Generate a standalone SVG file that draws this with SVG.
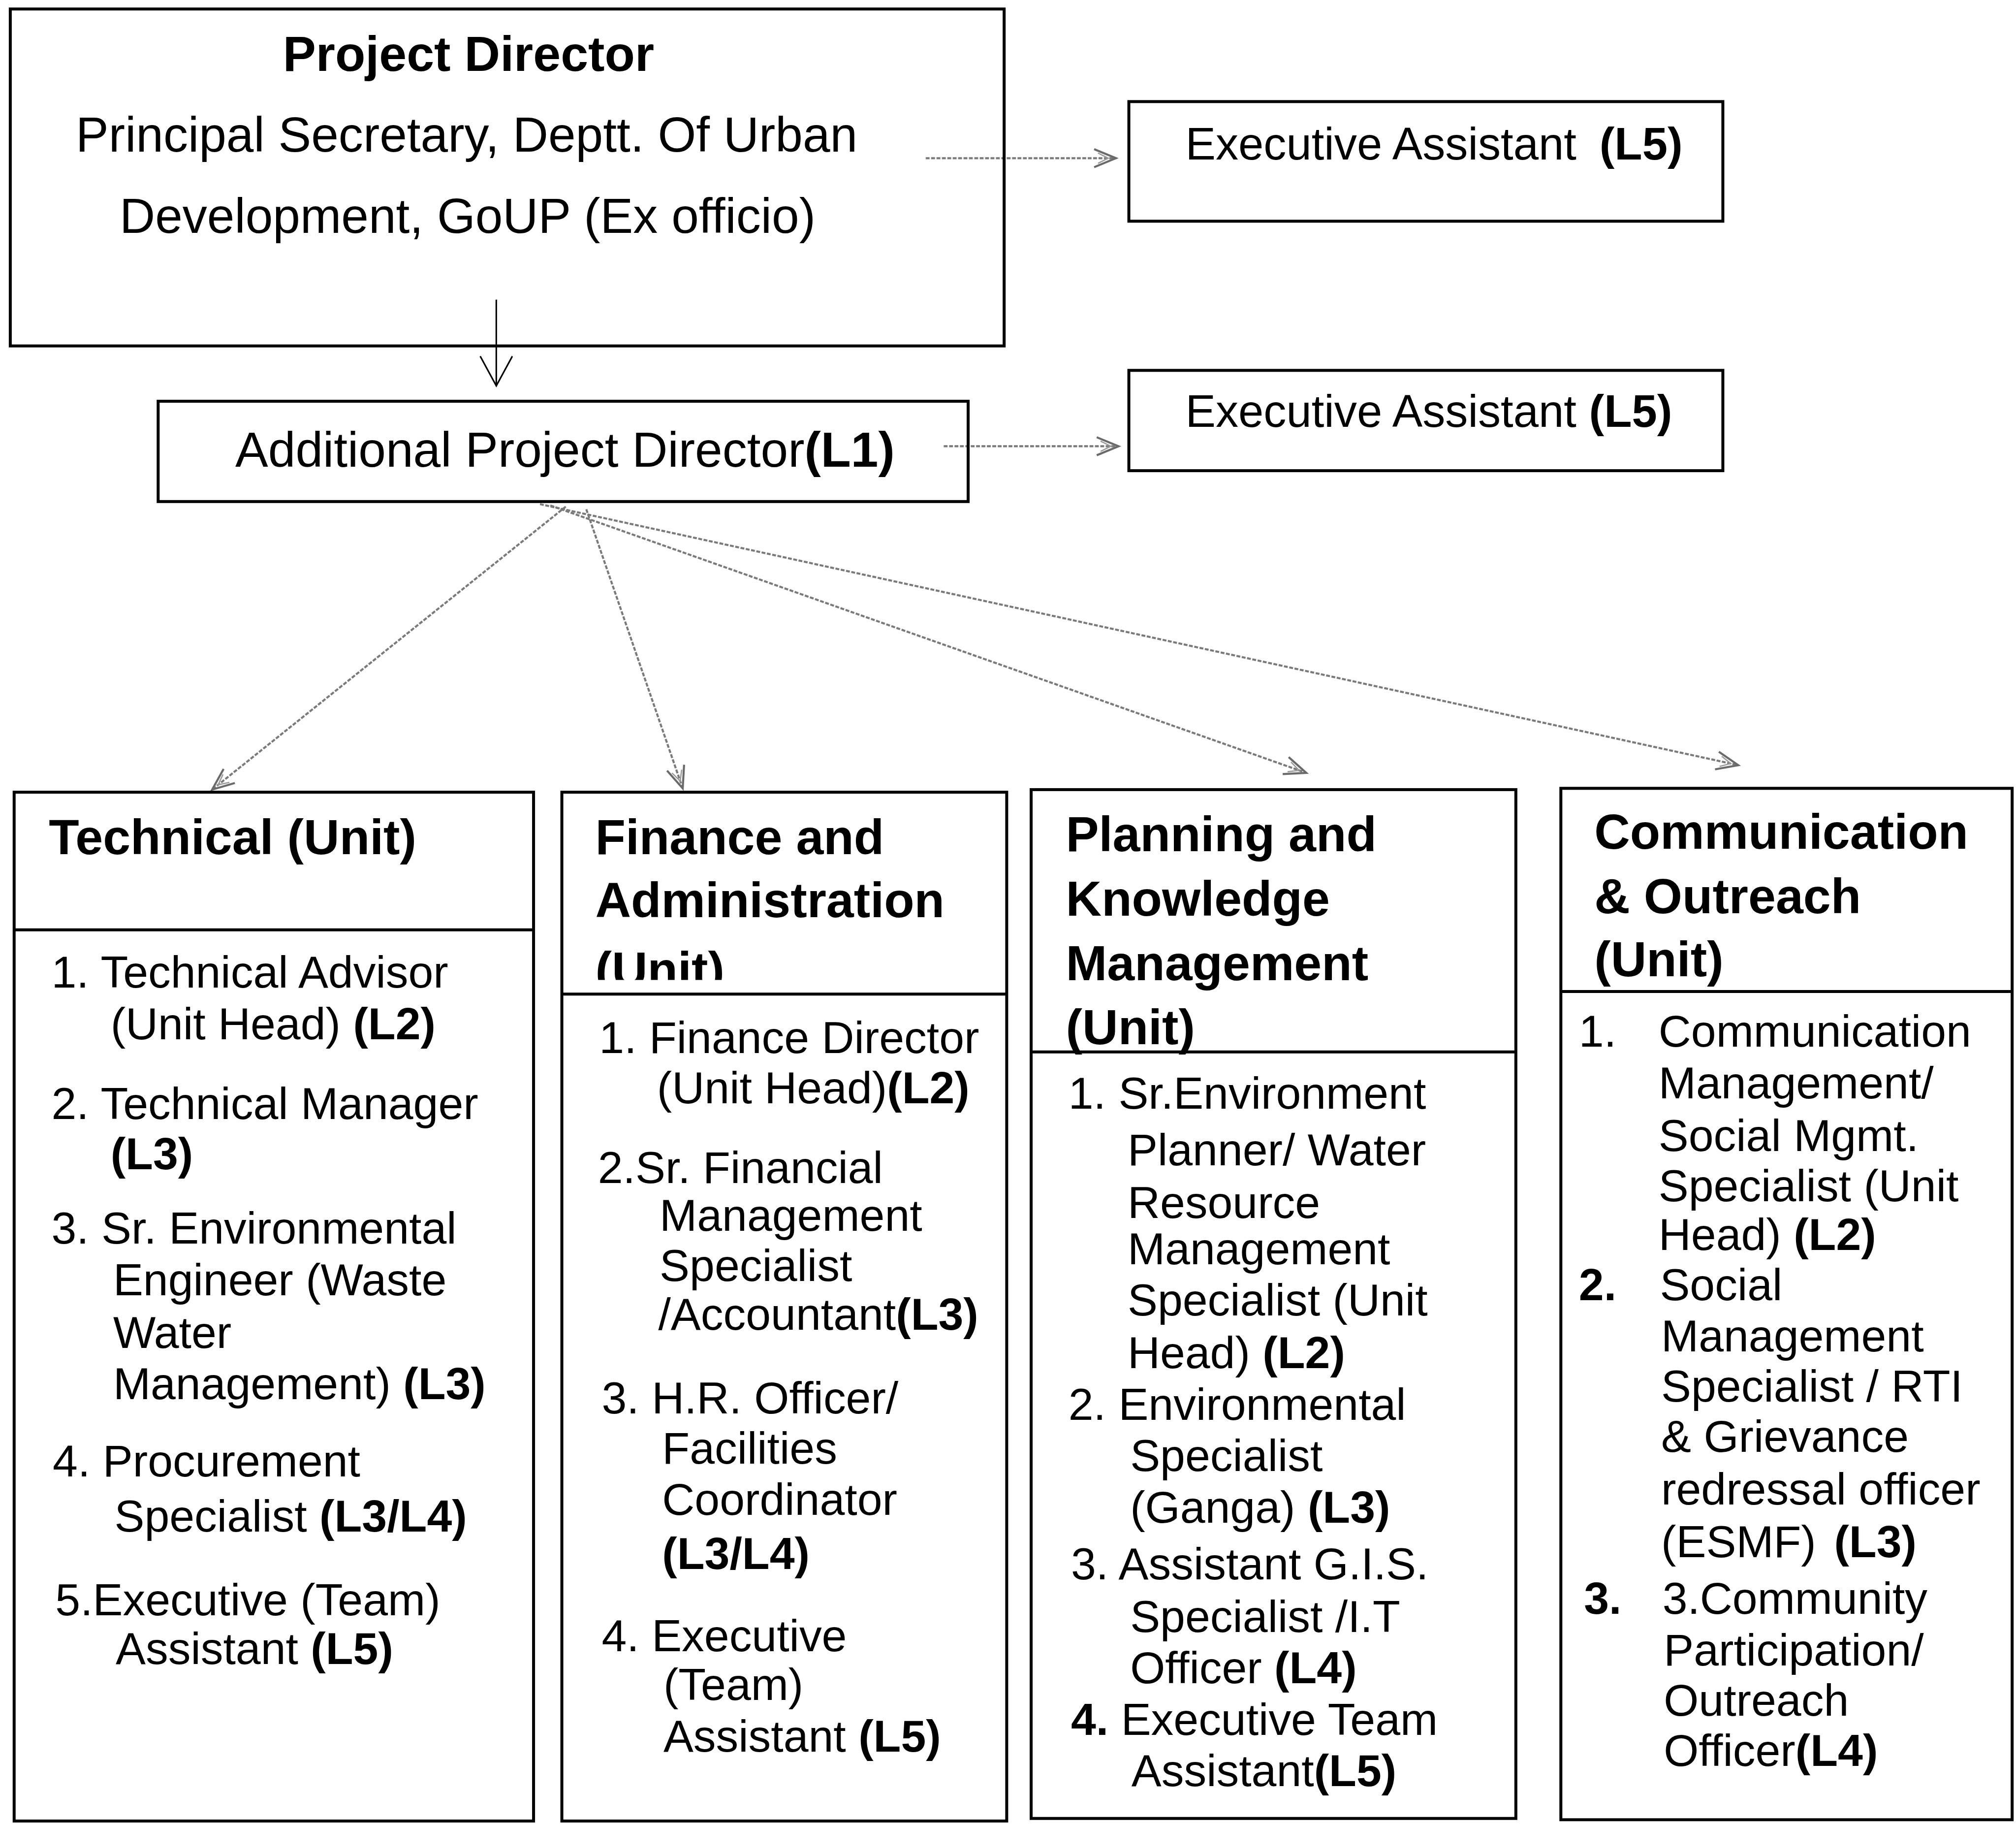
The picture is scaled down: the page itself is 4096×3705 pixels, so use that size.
<svg xmlns="http://www.w3.org/2000/svg" width="4096" height="3705" viewBox="0 0 4096 3705">
<style>
.box{fill:none;stroke:#000;stroke-width:2.3}
.t{font-family:"Liberation Sans",Arial,sans-serif;font-size:35px;fill:#000}
.h{font-family:"Liberation Sans",Arial,sans-serif;font-size:38.5px;font-weight:bold;fill:#000}
.m{font-family:"Liberation Sans",Arial,sans-serif;font-size:38.3px;fill:#000}
.e{font-family:"Liberation Sans",Arial,sans-serif;font-size:35.3px;fill:#000}
.b{font-weight:bold}
.conn{fill:none;stroke:#7a7a7a;stroke-width:1.6;stroke-dasharray:3 1.2}
.solid{fill:none;stroke:#000;stroke-width:1.2}
</style>
<defs>
<marker id="arr" markerUnits="userSpaceOnUse" markerWidth="22" markerHeight="18" refX="19" refY="9" orient="auto">
<path d="M2,2 L19,9 L2,16" fill="none" stroke="#6a6a6a" stroke-width="1.6"/>
<path d="M5,5 L13,9 L5,13" fill="none" stroke="#9a9a9a" stroke-width="1"/>
</marker>
<marker id="arrk" markerUnits="userSpaceOnUse" markerWidth="26" markerHeight="28" refX="24" refY="13" orient="auto">
<path d="M1,0.5 L24,13 L1,25.5" fill="none" stroke="#000" stroke-width="1.2"/>
</marker>
<clipPath id="finClip"><rect x="437" y="616" width="346" height="146"/></clipPath>
</defs>
<rect width="4096" height="3705" fill="#fff"/>
<g transform="scale(2.612245)">
<g id="connectors">
<line class="solid" x1="386" y1="233" x2="386" y2="300" marker-end="url(#arrk)"/>
<line class="conn" x1="720" y1="123" x2="868" y2="123" marker-end="url(#arr)"/>
<line class="conn" x1="734" y1="347" x2="870" y2="347" marker-end="url(#arr)"/>
<line class="conn" x1="440" y1="394" x2="165" y2="614" marker-end="url(#arr)"/>
<line class="conn" x1="456" y1="396" x2="531" y2="613" marker-end="url(#arr)"/>
<line class="conn" x1="428" y1="393" x2="1016" y2="601" marker-end="url(#arr)"/>
<line class="conn" x1="420" y1="392" x2="1352" y2="595" marker-end="url(#arr)"/>
</g>
<g id="project-director">
<rect class="box" x="8" y="7" width="773" height="262"/>
<text class="h" x="220" y="55">Project Director</text>
<text class="m" x="59" y="118">Principal Secretary, Deptt. Of Urban</text>
<text class="m" x="93" y="181">Development, GoUP (Ex officio)</text>
</g>
<g id="executive-assistant-1">
<rect class="box" x="878" y="79" width="462" height="93"/>
<text class="e" x="922" y="124">Executive Assistant<tspan x="1244" class="b">(L5)</tspan></text>
</g>
<g id="additional-project-director">
<rect class="box" x="123" y="312" width="630" height="78"/>
<text class="m" x="183" y="363">Additional Project Director<tspan class="b">(L1)</tspan></text>
</g>
<g id="executive-assistant-2">
<rect class="box" x="878" y="288" width="462" height="78"/>
<text class="e" x="922" y="332">Executive Assistant <tspan class="b">(L5)</tspan></text>
</g>
<g id="technical-unit">
<rect class="box" x="11" y="616" width="404" height="800"/>
<line class="box" x1="11" y1="723" x2="415" y2="723"/>
<text class="h" x="38" y="664">Technical (Unit)</text>
<text class="t" x="40" y="768">1. Technical Advisor</text>
<text class="t" x="86" y="808">(Unit Head) <tspan class="b">(L2)</tspan></text>
<text class="t" x="40" y="870">2. Technical Manager</text>
<text class="t b" x="86" y="909">(L3)</text>
<text class="t" x="40" y="967">3. Sr. Environmental</text>
<text class="t" x="88" y="1007">Engineer (Waste</text>
<text class="t" x="88" y="1048">Water</text>
<text class="t" x="88" y="1088">Management) <tspan class="b">(L3)</tspan></text>
<text class="t" x="41" y="1148">4. Procurement</text>
<text class="t" x="89" y="1191">Specialist <tspan class="b">(L3/L4)</tspan></text>
<text class="t" x="43" y="1256">5.Executive (Team)</text>
<text class="t" x="90" y="1294">Assistant <tspan class="b">(L5)</tspan></text>
</g>
<g id="finance-unit">
<rect class="box" x="437" y="616" width="346" height="800"/>
<line class="box" x1="437" y1="773" x2="783" y2="773"/>
<text class="h" x="463" y="664">Finance and</text>
<text class="h" x="463" y="713">Administration</text>
<text class="h" x="463" y="767" clip-path="url(#finClip)">(Unit)</text>
<text class="t" x="466" y="819">1. Finance Director</text>
<text class="t" x="511" y="858">(Unit Head)<tspan class="b">(L2)</tspan></text>
<text class="t" x="465" y="920">2.Sr. Financial</text>
<text class="t" x="513" y="957">Management</text>
<text class="t" x="513" y="996">Specialist</text>
<text class="t" x="512" y="1034">/Accountant<tspan class="b">(L3)</tspan></text>
<text class="t" x="468" y="1099">3. H.R. Officer/</text>
<text class="t" x="515" y="1138">Facilities</text>
<text class="t" x="515" y="1178">Coordinator</text>
<text class="t b" x="515" y="1220">(L3/L4)</text>
<text class="t" x="468" y="1284">4. Executive</text>
<text class="t" x="516" y="1322">(Team)</text>
<text class="t" x="516" y="1362">Assistant <tspan class="b">(L5)</tspan></text>
</g>
<g id="planning-unit">
<rect class="box" x="802" y="614" width="377" height="800"/>
<line class="box" x1="802" y1="818" x2="1179" y2="818"/>
<text class="h" x="829" y="662">Planning and</text>
<text class="h" x="829" y="712">Knowledge</text>
<text class="h" x="829" y="762">Management</text>
<text class="h" x="829" y="812">(Unit)</text>
<text class="t" x="831" y="862">1. Sr.Environment</text>
<text class="t" x="877" y="906">Planner/ Water</text>
<text class="t" x="877" y="947">Resource</text>
<text class="t" x="877" y="983">Management</text>
<text class="t" x="877" y="1023">Specialist (Unit</text>
<text class="t" x="877" y="1064">Head) <tspan class="b">(L2)</tspan></text>
<text class="t" x="831" y="1104">2. Environmental</text>
<text class="t" x="879" y="1144">Specialist</text>
<text class="t" x="879" y="1184">(Ganga) <tspan class="b">(L3)</tspan></text>
<text class="t" x="833" y="1228">3. Assistant G.I.S.</text>
<text class="t" x="879" y="1269">Specialist /I.T</text>
<text class="t" x="879" y="1309">Officer <tspan class="b">(L4)</tspan></text>
<text class="t" x="833" y="1349"><tspan class="b">4.</tspan> Executive Team</text>
<text class="t" x="880" y="1389">Assistant<tspan class="b">(L5)</tspan></text>
</g>
<g id="communication-unit">
<rect class="box" x="1214" y="613" width="351" height="802"/>
<line class="box" x1="1214" y1="771" x2="1565" y2="771"/>
<text class="h" x="1240" y="660">Communication</text>
<text class="h" x="1240" y="710">&amp; Outreach</text>
<text class="h" x="1240" y="759">(Unit)</text>
<text class="t" x="1228" y="814">1.</text>
<text class="t" x="1290" y="814">Communication</text>
<text class="t" x="1290" y="854">Management/</text>
<text class="t" x="1290" y="895">Social Mgmt.</text>
<text class="t" x="1290" y="934">Specialist (Unit</text>
<text class="t" x="1290" y="972">Head) <tspan class="b">(L2)</tspan></text>
<text class="t b" x="1228" y="1011">2.</text>
<text class="t" x="1291" y="1011">Social</text>
<text class="t" x="1292" y="1051">Management</text>
<text class="t" x="1292" y="1090">Specialist / RTI</text>
<text class="t" x="1292" y="1129">&amp; Grievance</text>
<text class="t" x="1292" y="1170">redressal officer</text>
<text class="t" x="1292" y="1211">(ESMF)<tspan dx="14" class="b">(L3)</tspan></text>
<text class="t b" x="1232" y="1255">3.</text>
<text class="t" x="1293" y="1255">3.Community</text>
<text class="t" x="1294" y="1295">Participation/</text>
<text class="t" x="1294" y="1334">Outreach</text>
<text class="t" x="1294" y="1373">Officer<tspan class="b">(L4)</tspan></text>
</g>
</g>
</svg>
